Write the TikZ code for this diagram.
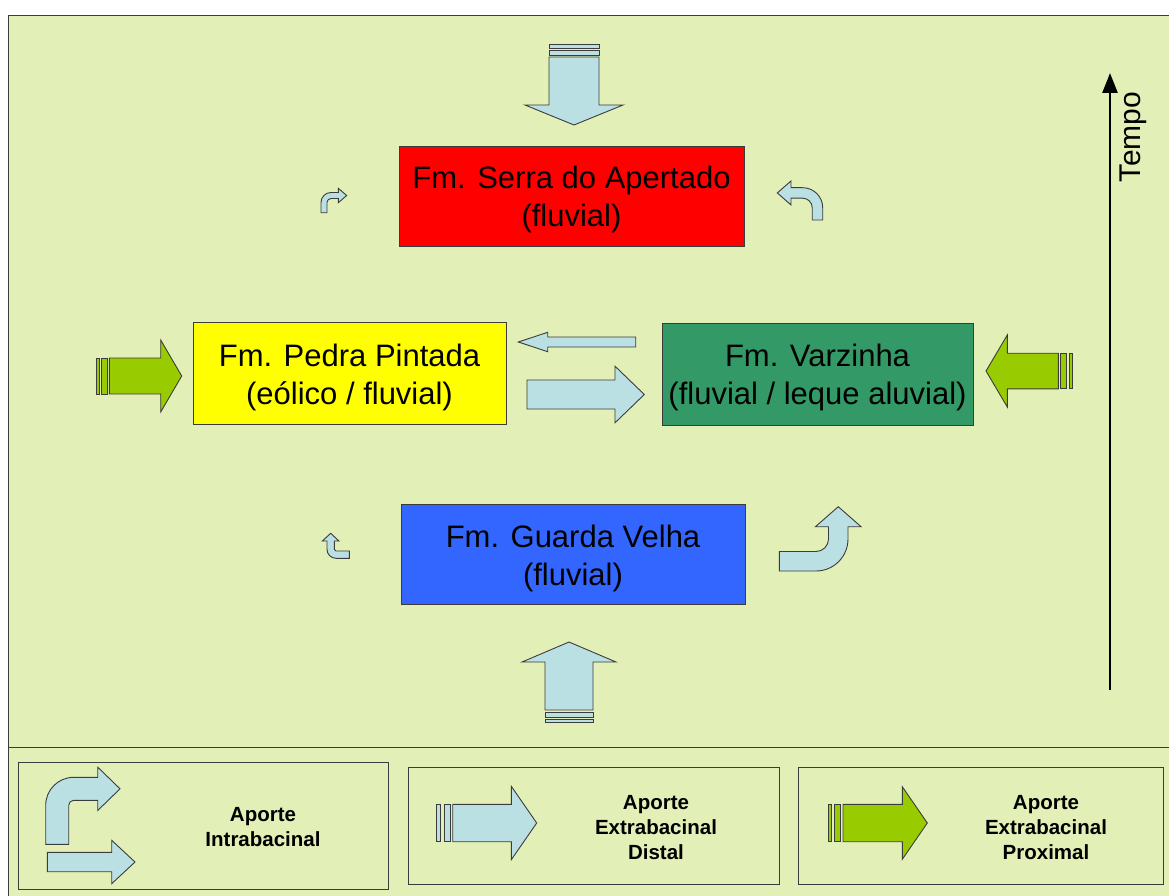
\documentclass[tikz,border=0pt]{standalone}
\usepackage{fontspec}
\setmainfont{Liberation Sans}
\usetikzlibrary{arrows.meta}

\definecolor{bgreen}{HTML}{E2EFB6}
\definecolor{sky}{HTML}{BBE0E3}
\definecolor{lime}{HTML}{99CC00}
\definecolor{edge}{HTML}{3C3C3C}
\definecolor{fmred}{HTML}{FF0000}
\definecolor{fmyellow}{HTML}{FFFF00}
\definecolor{fmgreen}{HTML}{339966}
\definecolor{fmblue}{HTML}{3366FF}

% straight block arrow pointing along local +x, starting at the origin
% #1 style, #2 shaft length, #3 shaft half width, #4 head half width, #5 head length
\newcommand\blockarr[5]{%
  \filldraw[#1] (0,-#3) -- (#2,-#3) -- (#2,-#4) -- (#2+#5,0) -- (#2,#4)
    -- (#2,#3) -- (0,#3) -- cycle;}

% bent arrow: shaft rises from the base (0,0)-(w,0) and turns towards local +x
% #1 style, #2 w, #3 height H, #4 outer radius R, #5 head base L, #6 head half width, #7 head length
\newcommand\bentarr[7]{%
  \filldraw[#1] (0,0) -- (0,#3-#4) arc[start angle=180,end angle=90,radius=#4]
    -- (#5,#3) -- (#5,#3-#2/2+#6) -- (#5+#7,#3-#2/2) -- (#5,#3-#2/2-#6)
    -- (#5,#3-#2) -- (#4,#3-#2) arc[start angle=90,end angle=180,radius=#4-#2]
    -- (#2,0) -- cycle;}

\tikzset{
  sky arrow/.style={fill=sky, draw=edge, line width=0.9pt, line join=miter},
  lime arrow/.style={fill=lime, draw=edge, line width=0.9pt, line join=miter},
  frame/.style={draw=edge, line width=1pt},
  fmbox/.style={draw=edge, line width=0.9pt, inner sep=0pt},
  fmtext/.style={inner sep=0pt, align=center, font=\fontsize{31}{38}\selectfont},
  legendbox/.style={draw=edge, line width=1pt},
  legendtext/.style={align=center, font=\fontsize{20.5}{25}\selectfont\bfseries},
}

\begin{document}
\begin{tikzpicture}[x=1pt,y=1pt,yscale=-1]
\useasboundingbox (0,0) rectangle (1169,896);

% background and frame
\fill[bgreen] (8,16) rectangle (1169,896);
\draw[frame] (8,896) -- (8,16) -- (1169,16);
\draw[frame] (8,747) -- (1169,747);

% formations
\node[fmbox, fill=fmred, minimum width=345pt, minimum height=100pt] (serra) at (571.5,196) {};
\node[fmtext] (serratxt) at (571.5,199.5) {Fm. Serra do Apertado\\(fluvial)};
\node[fmbox, fill=fmyellow, minimum width=313pt, minimum height=102pt] (pedra) at (349.5,373) {};
\node[fmtext] (pedratxt) at (349.5,377.5) {Fm. Pedra Pintada\\(eólico / fluvial)};
\node[fmbox, fill=fmgreen, minimum width=311pt, minimum height=102pt] (varz) at (817.5,374) {};
\node[fmtext] (varztxt) at (817.5,377.5) {Fm. Varzinha\\(fluvial / leque aluvial)};
\node[fmbox, fill=fmblue, minimum width=344pt, minimum height=100pt] (guarda) at (573,554) {};
\node[fmtext] (guardatxt) at (573,558) {Fm. Guarda Velha\\(fluvial)};

% distal supply from above
\begin{scope}[shift={(574,57)},rotate=90]
  \filldraw[sky arrow] (-12.7,-25) rectangle (-8.7,25);
  \filldraw[sky arrow] (-6.7,-25) rectangle (-2,25);
  \blockarr{sky arrow}{48}{25}{49}{20}
\end{scope}

% distal supply from below
\begin{scope}[shift={(569,710)},rotate=-90]
  \filldraw[sky arrow] (-2,-24) rectangle (-7,24);
  \filldraw[sky arrow] (-9,-24) rectangle (-12,24);
  \blockarr{sky arrow}{48}{24}{47}{20}
\end{scope}

% proximal supply from the left
\begin{scope}[shift={(109.3,376)}]
  \filldraw[lime arrow] (-12.6,-18) rectangle (-10,18);
  \filldraw[lime arrow] (-8,-18) rectangle (-2,18);
  \blockarr{lime arrow}{51.4}{18}{36}{21}
\end{scope}

% proximal supply from the right
\begin{scope}[shift={(1058.3,371)},rotate=180]
  \filldraw[lime arrow] (-2.4,-17.8) rectangle (-8.4,17.8);
  \filldraw[lime arrow] (-10.7,-17.8) rectangle (-14,17.8);
  \blockarr{lime arrow}{51}{17.8}{36}{21.3}
\end{scope}

% exchange between Pedra Pintada and Varzinha
\begin{scope}[shift={(635.7,342)},rotate=180]
  \blockarr{sky arrow}{88}{5}{9.7}{29.4}
\end{scope}
\begin{scope}[shift={(527,394.5)}]
  \blockarr{sky arrow}{88}{14.5}{28.3}{29.3}
\end{scope}

% intrabasinal supply (bent arrows)
\begin{scope}[shift={(321,212.7)},yscale=-1]
  \bentarr{sky arrow}{6}{20.2}{10}{17.3}{7.2}{8.4}
\end{scope}
\begin{scope}[shift={(822.7,220)},xscale=-1,yscale=-1]
  \bentarr{sky arrow}{10.5}{32.3}{20}{31.7}{12}{13.7}
\end{scope}
\begin{scope}[shift={(349.3,558.3)},cm={0,-1,-1,0,(0,0)}]
  \bentarr{sky arrow}{7.3}{22.3}{9}{17.3}{8.3}{7.7}
\end{scope}
\begin{scope}[shift={(779.3,571)},cm={0,-1,1,0,(0,0)}]
  \bentarr{sky arrow}{19.5}{68.7}{32}{44.3}{22.8}{20}
\end{scope}

% time axis
\coordinate (tbot) at (1110,690);
\coordinate (ttop) at (1110,73);
\draw[line width=2.6pt, -{Triangle[length=20pt,width=15pt]}] (tbot) -- (ttop);
\node[rotate=90, font=\fontsize{30}{36}\selectfont] (tempo) at (1133,137) {Tempo};

% legend
\draw[legendbox] (18,762) rectangle (388,889);
\draw[legendbox] (408,767) rectangle (779,884);
\draw[legendbox] (798,767) rectangle (1163,884);

\begin{scope}[shift={(45.7,844.3)},yscale=-1]
  \bentarr{sky arrow}{23}{67}{28}{52}{21.7}{22.3}
\end{scope}
\begin{scope}[shift={(47.3,862)}]
  \blockarr{sky arrow}{64.4}{9.7}{21.7}{23.3}
\end{scope}
\node[legendtext] (lintra) at (263,827) {Aporte\\Intrabacinal};

\begin{scope}[shift={(452.7,823)}]
  \filldraw[sky arrow] (-16,-18.7) rectangle (-12,18.7);
  \filldraw[sky arrow] (-8.7,-18.7) rectangle (-2.4,18.7);
  \blockarr{sky arrow}{58.6}{18.7}{36.7}{25.4}
\end{scope}
\node[legendtext] (ldist) at (656,827.5) {Aporte\\Extrabacinal\\Distal};

\begin{scope}[shift={(843,823)}]
  \filldraw[lime arrow] (-14.7,-18.7) rectangle (-11.7,18.7);
  \filldraw[lime arrow] (-8.7,-18.7) rectangle (-2.7,18.7);
  \blockarr{lime arrow}{59.3}{18.7}{36.3}{25}
\end{scope}
\node[legendtext] (lprox) at (1046,828) {Aporte\\Extrabacinal\\Proximal};

\end{tikzpicture}
\end{document}
